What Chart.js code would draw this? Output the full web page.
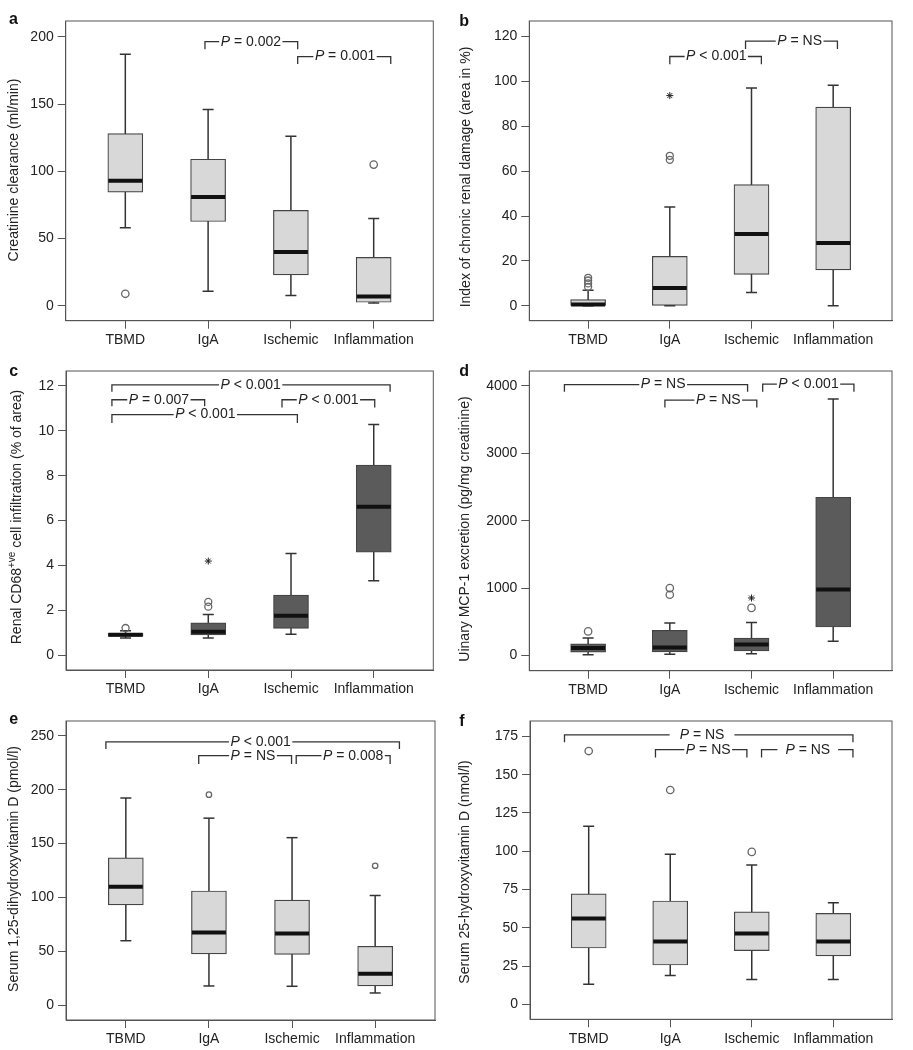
<!DOCTYPE html>
<html><head><meta charset="utf-8">
<script src="https://cdn.jsdelivr.net/npm/chart.js@4.4.1/dist/chart.umd.min.js"></script>
<style>
html,body{margin:0;padding:0;background:#fff}
body{width:913px;height:1050px;position:relative;overflow:hidden}
.panel{position:absolute}
</style></head><body>
<script>
// ---------------- DATA ----------------
const categories = ['TBMD', 'IgA', 'Ischemic', 'Inflammation'];

// a: Creatinine clearance
const aMin = [58, 10.8, 7.8, 2.2];
const aQ1 = [84.5, 62.7, 23, 2.7];
const aMedian = [93, 81, 40, 7];
const aQ3 = [128, 109, 71, 36];
const aMax = [187, 146, 126, 65];
const aOutliers = [[1, 9], [4, 105]];
const aExtremes = [];
const aTicks = [0, 50, 100, 150, 200];
const aBrackets = [[1.962, 3.082, 196.3, 190.7, 'P = 0.002', 2.516], [3.082, 4.206, 185.3, 179.7, 'P = 0.001', 3.654]];

// b: Index of chronic renal damage
const bMin = [0, 0, 6, 0];
const bQ1 = [0, 0, 14, 16];
const bMedian = [0.6, 8, 32, 28];
const bQ3 = [2.8, 22, 54, 88.5];
const bMax = [6.9, 44, 97, 98.2];
const bOutliers = [[1, 8.5], [1, 10], [1, 11.3], [1, 12.5], [2, 65], [2, 66.8]];
const bExtremes = [[2, 93.6]];
const bTicks = [0, 20, 40, 60, 80, 100, 120];
const bBrackets = [[2.0, 3.121, 111, 107.5, 'P < 0.001', 2.569], [2.927, 4.052, 117.8, 114.3, 'P = NS', 3.589]];

// c: Renal CD68+ve cell infiltration
const cMin = [0.78, 0.78, 0.94, 3.32];
const cQ1 = [0.85, 0.91, 1.2, 4.59];
const cMedian = [0.92, 1.05, 1.76, 6.62];
const cQ3 = [0.98, 1.45, 2.68, 8.47];
const cMax = [1.1, 1.82, 4.54, 10.28];
const cOutliers = [[1, 1.22], [2, 2.17], [2, 2.38]];
const cExtremes = [[2, 4.2]];
const cTicks = [0, 2, 4, 6, 8, 10, 12];
const cBrackets = [[0.835, 4.198, 12.04, 11.74, 'P < 0.001', 2.512], [0.835, 1.956, 11.38, 11.09, 'P = 0.007', 1.403], [2.891, 4.012, 11.38, 11.04, 'P < 0.001', 3.452], [0.835, 3.077, 10.72, 10.35, 'P < 0.001', 1.964]];

// d: Uinary MCP-1 excretion
const dMin = [9, 19, 24, 211];
const dQ1 = [49, 53, 68, 422];
const dMedian = [112, 118, 162, 980];
const dQ3 = [171, 372, 259, 2348];
const dMax = [259, 480, 490, 3804];
const dOutliers = [[1, 357], [2, 901], [2, 1000], [3, 706]];
const dExtremes = [[3, 853]];
const dTicks = [0, 1000, 2000, 3000, 4000];
const dBrackets = [[0.71, 2.952, 4020, 3912, 'P = NS', 1.919], [1.94, 3.065, 3789, 3681, 'P = NS', 2.593], [3.137, 4.254, 4025, 3912, 'P < 0.001', 3.698]];

// e: Serum 1,25-dihydroxyvitamin D
const eMin = [59.8, 17.8, 17.5, 11.3];
const eQ1 = [93, 47.5, 47.2, 17.8];
const eMedian = [109.8, 67.5, 66.6, 29.1];
const eQ3 = [136.8, 106, 97.5, 54.6];
const eMax = [192.3, 173.6, 155.5, 101.8];
const eOutliers = [[2, 195.4], [4, 129.4]];
const eExtremes = [];
const eTicks = [0, 50, 100, 150, 200, 250];
const eBrackets = [[0.76, 4.292, 244.5, 237.7, 'P < 0.001', 2.622], [1.877, 2.994, 231.6, 223.9, 'P = NS', 2.53], [3.05, 4.18, 231.6, 223.9, 'P = 0.008', 3.735]];

// f: Serum 25-hydroxyvitamin D
const fMin = [13.2, 19, 16.4, 16.4];
const fQ1 = [36.9, 25.8, 35.2, 31.8];
const fMedian = [56.1, 41.1, 46.3, 41.1];
const fQ3 = [72.3, 67.6, 60.5, 59.5];
const fMax = [116.4, 98, 91, 66.5];
const fOutliers = [[1, 165.4], [2, 140], [3, 99.6]];
const fExtremes = [];
const fTicks = [0, 25, 50, 75, 100, 125, 150, 175];
const fBrackets = [[0.703, 4.241, 175.9, 171.2, 'P = NS', 2.39], [1.819, 2.94, 166.3, 161.2, 'P = NS', 2.466], [3.12, 4.241, 166.3, 161.2, 'P = NS', 3.687]];

// ---------------- STYLE / LAYOUT ----------------
const FONT = "'Liberation Sans', Arial, Helvetica, sans-serif";
Chart.defaults.font.family = FONT;
Chart.defaults.font.size = 14;
Chart.defaults.color = '#222';

const LIGHT = '#d8d8d8', DARK = '#5b5b5b';

const panels = [
  {letter:'a', min:aMin, q1:aQ1, med:aMedian, q3:aQ3, max:aMax, out:aOutliers, ext:aExtremes, ticks:aTicks, brackets:aBrackets,
   title:[{t:'Creatinine clearance (ml/min)'}],
   left:0, top:0, w:456, h:350, yAxisW:65.7, padTop:17.3, padRight:22.7, xAxisH:29.3, ymin:-11, ymax:211.7,
   fill:LIGHT, titleX:14, titleY:170, letterX:9, letterY:24, outR:3.7, gaps:[1.5,1.5]},
  {letter:'b', min:bMin, q1:bQ1, med:bMedian, q3:bQ3, max:bMax, out:bOutliers, ext:bExtremes, ticks:bTicks, brackets:bBrackets,
   title:[{t:'Index of chronic renal damage (area in %)'}],
   left:456, top:0, w:457, h:350, yAxisW:73.3, padTop:17.3, padRight:16, xAxisH:29.3, ymin:-6.6, ymax:126.8,
   fill:LIGHT, titleX:10, titleY:177, letterX:3.3, letterY:25.7, outR:3.5, gaps:[1.5,1.5]},
  {letter:'c', min:cMin, q1:cQ1, med:cMedian, q3:cQ3, max:cMax, out:cOutliers, ext:cExtremes, ticks:cTicks, brackets:cBrackets,
   title:[{t:'Renal CD68'},{t:'+ve', sup:true},{t:' cell infiltration (% of area)'}],
   left:0, top:350, w:456, h:350, yAxisW:66, padTop:18.3, padRight:22.7, xAxisH:30, ymin:-0.65, ymax:12.66,
   fill:DARK, titleX:17, titleY:167, letterX:9.3, letterY:25.7, outR:3.5, gaps:[1.5,1.5,1.5,1.5]},
  {letter:'d', min:dMin, q1:dQ1, med:dMedian, q3:dQ3, max:dMax, out:dOutliers, ext:dExtremes, ticks:dTicks, brackets:dBrackets,
   title:[{t:'Uinary MCP-1 excretion (pg/mg creatinine)'}],
   left:456, top:350, w:457, h:350, yAxisW:73.3, padTop:18.3, padRight:16, xAxisH:29.3, ymin:-226, ymax:4221,
   fill:DARK, titleX:9.5, titleY:179, letterX:3.3, letterY:26, outR:3.7, gaps:[1.5,1.5,1.5]},
  {letter:'e', min:eMin, q1:eQ1, med:eMedian, q3:eQ3, max:eMax, out:eOutliers, ext:eExtremes, ticks:eTicks, brackets:eBrackets,
   title:[{t:'Serum 1,25-dihydroxyvitamin D (pmol/l)'}],
   left:0, top:700, w:456, h:350, yAxisW:66, padTop:18.3, padRight:20, xAxisH:30, ymin:-13.8, ymax:263.8,
   fill:LIGHT, titleX:14, titleY:169, letterX:9.3, letterY:24, outR:2.7, gaps:[1.5,1.5,1.5]},
  {letter:'f', min:fMin, q1:fQ1, med:fMedian, q3:fQ3, max:fMax, out:fOutliers, ext:fExtremes, ticks:fTicks, brackets:fBrackets,
   title:[{t:'Serum 25-hydroxyvitamin D (nmol/l)'}],
   left:456, top:700, w:457, h:350, yAxisW:74, padTop:15, padRight:13.7, xAxisH:30.7, ymin:-9.6, ymax:185,
   fill:LIGHT, titleX:9.5, titleY:172, letterX:3.3, letterY:26, outR:3.7, gaps:[10,1.5,8]}
];

const decor = {
  id: 'decor',
  afterDatasetsDraw(chart, args, o) {
    const {ctx} = chart;
    const x = chart.scales.x, y = chart.scales.y;
    ctx.save();
    o.brackets.forEach((b, k) => {
      const cx = x.getPixelForValue(b[5]);
      const cy = y.getPixelForValue(b[2]);
      const first = b[4].charAt(0), rest = b[4].slice(1);
      ctx.font = 'italic 14px ' + FONT;
      const w1 = ctx.measureText(first).width;
      ctx.font = '14px ' + FONT;
      const w2 = ctx.measureText(rest).width;
      const left = cx - (w1 + w2) / 2;
      const pad = o.gaps[k];
      ctx.fillStyle = '#fff';
      ctx.fillRect(left - pad, cy - 3, w1 + w2 + 2 * pad, 6);
      ctx.fillStyle = '#222';
      ctx.textBaseline = 'middle';
      ctx.textAlign = 'left';
      ctx.font = 'italic 14px ' + FONT;
      ctx.fillText(first, left, cy);
      ctx.font = '14px ' + FONT;
      ctx.fillText(rest, left + w1, cy);
    });
    ctx.restore();
  },
  afterDraw(chart, args, o) {
    const {ctx, chartArea: ca} = chart;
    ctx.save();
    ctx.strokeStyle = '#555';
    ctx.lineWidth = 1;
    ctx.strokeRect(ca.left, ca.top, ca.right - ca.left, ca.bottom - ca.top);
    // y title
    ctx.translate(o.titleX, o.titleY);
    ctx.rotate(-Math.PI / 2);
    ctx.fillStyle = '#222';
    ctx.textBaseline = 'middle';
    ctx.textAlign = 'left';
    const fontFor = s => (s.sup ? '10px ' : '14px ') + FONT;
    let total = 0;
    o.title.forEach(s => { ctx.font = fontFor(s); total += ctx.measureText(s.t).width; });
    let px = -total / 2;
    o.title.forEach(s => {
      ctx.font = fontFor(s);
      ctx.fillText(s.t, px, s.sup ? -5 : 0);
      px += ctx.measureText(s.t).width;
    });
    ctx.restore();
    // panel letter
    ctx.save();
    ctx.font = 'bold 16px ' + FONT;
    ctx.fillStyle = '#111';
    ctx.textBaseline = 'alphabetic';
    ctx.textAlign = 'left';
    ctx.fillText(o.letter, o.letterX, o.letterY);
    ctx.restore();
  }
};

panels.forEach(p => {
  const div = document.createElement('div');
  div.className = 'panel';
  div.style.left = p.left + 'px';
  div.style.top = p.top + 'px';
  div.style.width = p.w + 'px';
  div.style.height = p.h + 'px';
  const canvas = document.createElement('canvas');
  div.appendChild(canvas);
  document.body.appendChild(div);

  const whisk = [], caps = [];
  categories.forEach((c, i) => {
    whisk.push({x: i + 1, y: p.min[i]}, {x: i + 1, y: p.max[i]}, {x: i + 1.5, y: null});
    caps.push({x: i + 1, y: p.min[i]}, {x: i + 1, y: p.max[i]});
  });
  const br = [];
  p.brackets.forEach(b => {
    br.push({x: b[0], y: b[3]}, {x: b[0], y: b[2]}, {x: b[1], y: b[2]}, {x: b[1], y: b[3]}, {x: b[1], y: null});
  });

  new Chart(canvas, {
    type: 'bar',
    data: {
      datasets: [
        {type: 'line', data: whisk, borderColor: '#333', borderWidth: 1.5, pointRadius: 0, spanGaps: false, order: 6},
        {type: 'scatter', data: caps, pointStyle: 'line', pointRadius: 5.5, pointBorderWidth: 1.5, pointBorderColor: '#333', order: 5},
        {type: 'bar', data: categories.map((c, i) => ({x: i + 1, y: [p.q1[i], p.q3[i]]})),
         backgroundColor: p.fill, borderColor: '#444', borderWidth: 1.2, borderSkipped: false, barThickness: 35, order: 4},
        {type: 'scatter', data: categories.map((c, i) => ({x: i + 1, y: p.med[i]})),
         pointStyle: 'line', pointRadius: 17, pointBorderWidth: 4, pointBorderColor: '#111', order: 3},
        {type: 'scatter', data: p.out.map(o => ({x: o[0], y: o[1]})),
         pointStyle: 'circle', pointRadius: p.outR, pointBorderWidth: 1.3, pointBorderColor: '#666', pointBackgroundColor: 'rgba(255,255,255,0)', order: 2},
        {type: 'scatter', data: p.ext.map(o => ({x: o[0], y: o[1]})),
         pointStyle: 'star', pointRadius: 3.5, pointBorderWidth: 1, pointBorderColor: '#222', order: 2},
        {type: 'line', data: br, borderColor: '#333', borderWidth: 1.3, pointRadius: 0, spanGaps: false, order: 1}
      ]
    },
    options: {
      responsive: true,
      maintainAspectRatio: false,
      animation: false,
      events: [],
      layout: {padding: {left: 0, top: p.padTop, right: p.padRight, bottom: 0}},
      plugins: {
        legend: {display: false},
        tooltip: {enabled: false},
        decor: {brackets: p.brackets, gaps: p.gaps, title: p.title, titleX: p.titleX, titleY: p.titleY,
                letter: p.letter, letterX: p.letterX, letterY: p.letterY}
      },
      scales: {
        x: {
          type: 'linear', min: 0.28, max: 4.72, offset: false,
          afterBuildTicks: s => { s.ticks = categories.map((c, i) => ({value: i + 1})); },
          afterFit: s => { s.height = p.xAxisH; },
          ticks: {callback: (v, i) => categories[i], autoSkip: false, maxRotation: 0, padding: 3, color: '#222', font: {size: 14}},
          grid: {display: true, drawOnChartArea: false, drawTicks: true, tickLength: 8, color: '#555', offset: false},
          border: {display: true, color: '#555', width: 1}
        },
        y: {
          type: 'linear', min: p.ymin, max: p.ymax,
          afterBuildTicks: s => { s.ticks = p.ticks.map(v => ({value: v})); },
          afterFit: s => { s.width = p.yAxisW; },
          ticks: {callback: v => String(v), padding: 4, color: '#222', font: {size: 14}},
          grid: {display: true, drawOnChartArea: false, drawTicks: true, tickLength: 8, color: '#555'},
          border: {display: true, color: '#555', width: 1}
        }
      }
    },
    plugins: [decor]
  });
});
</script>
</body></html>
